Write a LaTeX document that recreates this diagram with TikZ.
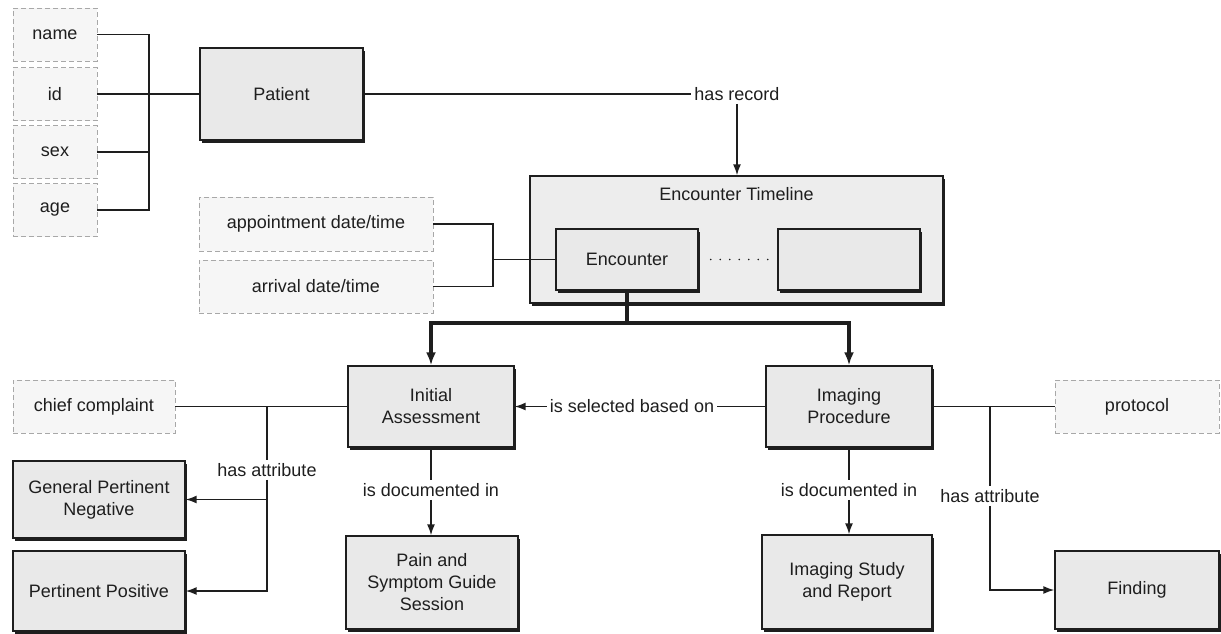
\documentclass[tikz,border=0pt]{standalone}
\usepackage{fontspec}
\setmainfont{Liberation Sans}
\usetikzlibrary{arrows.meta,calc,positioning,shadows}
\definecolor{ink}{HTML}{1E1E1E}
\definecolor{boxfill}{HTML}{E9E9E9}
\definecolor{tlfill}{HTML}{EDEDED}
\definecolor{attrfill}{HTML}{F6F6F6}
\definecolor{attrline}{HTML}{A8A8A8}
\tikzset{
  entity/.style={draw=ink,line width=1.4pt,fill=boxfill,align=center,inner sep=2pt,
    drop shadow={shadow xshift=2pt,shadow yshift=-2.5pt,fill=ink,opacity=1}},
  attrbox/.style={draw=attrline,line width=0.8pt,dash pattern=on 5pt off 3pt,fill=attrfill,align=center,inner sep=2pt},
  rel/.style={inner sep=3pt,align=center},
  link/.style={ink,line width=1.5pt},
  linkto/.style={link,-{Latex[length=11pt,width=8pt]}},
  branch/.style={ink,line width=3.4pt},
  branchto/.style={branch,-{Latex[length=13pt,width=10pt]}},
}
\begin{document}
\begin{tikzpicture}[x=1pt,y=-1pt,font=\fontsize{18}{22}\selectfont,text=ink]
  \useasboundingbox (0,0) rectangle (1221,633);
  % patient and its attributes
  \node[attrbox,minimum width=84pt,minimum height=53pt] (name) at (55,34.5) {name};
  \node[attrbox,minimum width=84pt,minimum height=53pt] (id) at (55,94) {id};
  \node[attrbox,minimum width=84pt,minimum height=53pt] (sex) at (55,152) {sex};
  \node[attrbox,minimum width=84pt,minimum height=53pt] (age) at (55,210) {age};
  \node[entity,minimum width=163pt,minimum height=92pt] (patient) at (281.5,94) {Patient};
  \coordinate (pjoin) at (149,94);
  \draw[link] (name.east) -| (age.east -| pjoin) -- (age.east);
  \draw[link] (sex.east) -- (sex.east -| pjoin);
  \draw[link] (id.east) -- (patient.west);
  \node[rel] (hasrecord) at (737,94) {has record};
  \draw[link] (patient.east) -- (hasrecord.west);
  % encounter timeline
  \node[entity,fill=tlfill,minimum width=413pt,minimum height=127pt] (timeline) at (736.5,239.5) {};
  \node[rel,anchor=north] (tltitle) at ($(timeline.north)+(0,9)$) {Encounter Timeline};
  \draw[linkto] (hasrecord.south) -- (hasrecord.south |- timeline.north);
  \node[entity,minimum width=142pt,minimum height=61pt] (encounter) at (627,259.5) {Encounter};
  \node[entity,minimum width=142pt,minimum height=61pt] (emptybox) at (849,259.5) {};
  \draw[ink,line width=1.8pt,line cap=round,dash pattern=on 0pt off 9.5pt]
    ($(encounter.east)+(12,0)$) -- ($(emptybox.west)+(-4,0)$);
  \node[attrbox,minimum width=234pt,minimum height=54pt] (appt) at (316,224) {appointment date/time};
  \node[attrbox,minimum width=234pt,minimum height=53pt] (arrival) at (316,286.5) {arrival date/time};
  \coordinate (ejoin) at (493,259.5);
  \draw[link] (appt.east) -| (arrival.east -| ejoin) -- (arrival.east);
  \draw[link] (ejoin) -- (encounter.west);
  % assessment and procedure
  \node[entity,minimum width=166pt,minimum height=81pt] (initial) at (431,406.5) {Initial\\Assessment};
  \node[entity,minimum width=166pt,minimum height=81pt] (imaging) at (849,406.5) {Imaging\\Procedure};
  \coordinate (split) at (627,323);
  \draw[branch] (encounter.south) -- (split);
  \draw[branchto] (split) -| (initial.north);
  \draw[branchto] (split) -| (imaging.north);
  \node[rel] (selected) at (632,406.5) {is selected based on};
  \draw[link] (imaging.west) -- (selected.east);
  \draw[linkto] (selected.west) -- (initial.east);
  % left attributes
  \node[attrbox,minimum width=162pt,minimum height=53pt] (chief) at (94,406.5) {chief complaint};
  \node[entity,minimum width=172pt,minimum height=77pt] (gpn) at (99,499.5) {General Pertinent\\Negative};
  \node[entity,minimum width=172pt,minimum height=80pt] (pp) at (99,591) {Pertinent Positive};
  \node[rel] (attr1) at (267,470) {has attribute};
  \draw[link] (chief.east) -- (initial.west);
  \draw[link] (chief.east -| attr1) -- (attr1.north);
  \draw[linkto] (attr1.south) |- (gpn.east);
  \draw[linkto] (attr1.south) |- (pp.east);
  \node[rel] (doc1) at (431,490) {is documented in};
  \node[entity,minimum width=172pt,minimum height=93pt] (pain) at (432,582.5) {Pain and\\Symptom Guide\\Session};
  \draw[link] (initial.south) -- (doc1.north);
  \draw[linkto] (doc1.south) -- (doc1.south |- pain.north);
  % right attributes
  \node[rel] (doc2) at (849,490) {is documented in};
  \node[entity,minimum width=170pt,minimum height=94pt] (study) at (847,582) {Imaging Study\\and Report};
  \draw[link] (imaging.south) -- (doc2.north);
  \draw[linkto] (doc2.south) -- (doc2.south |- study.north);
  \node[attrbox,minimum width=164pt,minimum height=53pt] (protocol) at (1137,406.5) {protocol};
  \node[entity,minimum width=164pt,minimum height=78pt] (finding) at (1137,590) {Finding};
  \node[rel] (attr2) at (990,496) {has attribute};
  \draw[link] (imaging.east) -- (protocol.west);
  \draw[link] (imaging.east -| attr2) -- (attr2.north);
  \draw[linkto] (attr2.south) |- (finding.west);
\end{tikzpicture}
\end{document}
